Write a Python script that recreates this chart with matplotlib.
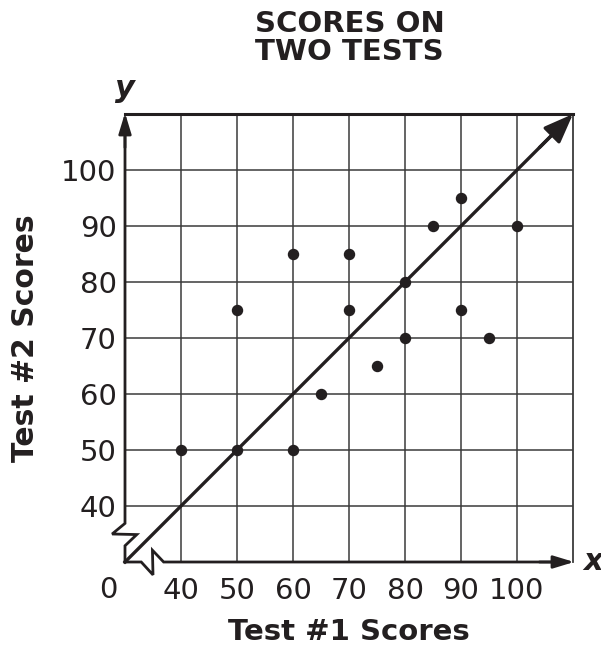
import matplotlib
matplotlib.use("Agg")
from matplotlib import pyplot as plt

# data
test1 = [40, 50, 50, 60, 60, 65, 70, 70, 75, 80, 80, 85, 90, 90, 95, 100]
test2 = [50, 75, 50, 85, 50, 60, 85, 75, 65, 80, 70, 90, 95, 75, 70, 90]
ticks = [40, 50, 60, 70, 80, 90, 100]
fit_x = [30, 110]
fit_y = [30, 110]

ink = "#231f20"
plt.rcParams["font.family"] = ["DejaVu Sans"]

fig = plt.figure(figsize=(6.01, 6.48), dpi=100)
ax = fig.add_axes([125 / 601, 1 - 562 / 648, 448 / 601, 448 / 648])
ax.set_xlim(30, 110)
ax.set_ylim(30, 110)
for s in ax.spines.values():
    s.set_visible(False)

# grid
ax.set_xticks(ticks)
ax.set_yticks(ticks)
ax.set_xticklabels([str(t) for t in ticks])
ax.set_yticklabels([str(t) for t in ticks])
ax.tick_params(length=0, labelsize=21, colors=ink)
ax.tick_params(axis="x", pad=11)
ax.tick_params(axis="y", pad=6)
ax.grid(True, color="#3a3a3a", linewidth=1.1)
ax.plot([110, 110], [30, 110], color="#3a3a3a", linewidth=1.3, clip_on=False)
ax.plot([30, 110], [110, 110], color=ink, linewidth=2.2, clip_on=False)

# axes with break marks
ax.plot([30, 30, 27.7, 32.1, 30, 30], [106, 36.9, 35.0, 34.9, 32.9, 30],
        color=ink, linewidth=2.0, clip_on=False, solid_joinstyle="miter")
ax.plot([30, 32.9, 35.0, 34.9, 36.9, 106], [30, 30, 27.7, 32.1, 30, 30],
        color=ink, linewidth=2.0, clip_on=False, solid_joinstyle="miter")
ax.annotate("", xy=(30, 110.2), xytext=(30, 104),
            arrowprops=dict(arrowstyle="-|>,head_length=1.25,head_width=0.38",
                            color=ink, lw=2.0, shrinkA=0, shrinkB=0),
            annotation_clip=False)
ax.annotate("", xy=(110.2, 30), xytext=(104, 30),
            arrowprops=dict(arrowstyle="-|>,head_length=1.25,head_width=0.38",
                            color=ink, lw=2.0, shrinkA=0, shrinkB=0),
            annotation_clip=False)

# line of fit
ax.plot([fit_x[0], fit_x[1] - 4], [fit_y[0], fit_y[1] - 4], color=ink, linewidth=2.4,
        clip_on=False)
ax.annotate("", xy=(fit_x[1], fit_y[1]), xytext=(fit_x[1] - 6, fit_y[1] - 6),
            arrowprops=dict(arrowstyle="-|>,head_length=1.8,head_width=0.7",
                            color=ink, lw=2.4, shrinkA=0, shrinkB=0),
            annotation_clip=False)

ax.scatter(test1, test2, s=52, color=ink, zorder=5, clip_on=False)

ax.text(27, 25, "0", fontsize=21, color=ink, ha="center", va="center")
ax.text(113.5, 30, "x", fontsize=22, fontweight="bold", style="italic",
        color=ink, ha="center", va="center")
ax.text(30, 114.5, "y", fontsize=22, fontweight="bold", style="italic",
        color=ink, ha="center", va="center")

fig.text(349.5 / 601, 1 - 38 / 648, "SCORES ON\nTWO TESTS", fontsize=21,
         fontweight="bold", color=ink, ha="center", va="center", linespacing=1.0)
fig.text(349 / 601, 1 - 632 / 648, "Test #1 Scores", fontsize=21,
         fontweight="bold", color=ink, ha="center", va="center")
fig.text(26 / 601, 1 - 338 / 648, "Test #2 Scores", fontsize=21.5,
         fontweight="bold", color=ink, ha="center", va="center", rotation=90)

fig.savefig("out.png", dpi=100)
